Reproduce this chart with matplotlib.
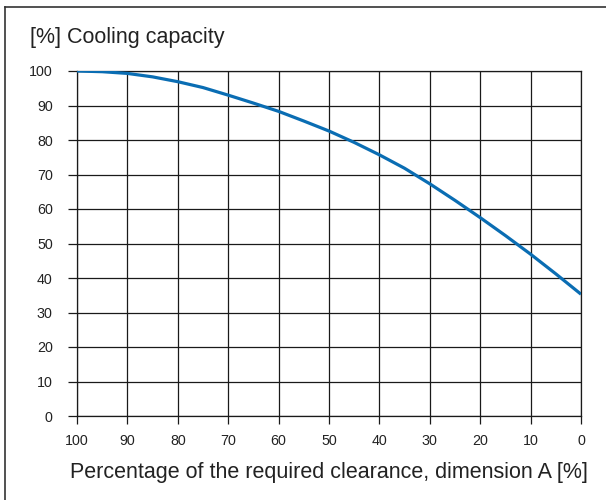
import matplotlib
matplotlib.use('Agg')
import matplotlib.pyplot as plt
from matplotlib.lines import Line2D

plt.rcParams['font.family'] = ['Liberation Sans', 'DejaVu Sans']

# values (every 5 %)
clearance = [100, 95, 90, 85, 80, 75, 70, 65, 60, 55, 50,
             45, 40, 35, 30, 25, 20, 15, 10, 5, 0]
capacity = [100, 99.8, 99.3, 98.3, 96.9, 95.2, 93.0, 90.7, 88.3, 85.5, 82.6,
            79.3, 75.7, 71.8, 67.3, 62.5, 57.5, 52.3, 46.9, 41.2, 35.3]
x_ticks = [100, 90, 80, 70, 60, 50, 40, 30, 20, 10, 0]
y_ticks = [0, 10, 20, 30, 40, 50, 60, 70, 80, 90, 100]

title = "[%] Cooling capacity"
xlabel = "Percentage of the required clearance, dimension A [%]"

fig = plt.figure(figsize=(6.06, 5.0), dpi=100)
ax = fig.add_axes([77 / 606, 84 / 500, 504 / 606, 345 / 500])

ax.plot(clearance, capacity, color='#0a6db3', lw=2.3, solid_capstyle='butt', zorder=3)

ax.set_xlim(100, 0)
ax.set_ylim(0, 100)
ax.set_xticks(x_ticks)
ax.set_yticks(y_ticks)
ax.grid(True, color='#1a1a1a', lw=0.9)
for s in ax.spines.values():
    s.set_color('#1a1a1a')
    s.set_linewidth(0.9)
ax.tick_params(axis='y', direction='out', length=6.5, width=0.9, color='#1a1a1a',
               pad=11, labelsize=10.3, labelcolor='#222222')
ax.tick_params(axis='x', direction='out', length=5.8, width=0.9, color='#1a1a1a',
               pad=7, labelsize=10.3, labelcolor='#222222')

ax.set_xlabel(xlabel, fontsize=15.5, color='#222222', labelpad=10)
fig.text(30 / 606, 1 - 37 / 500, title, fontsize=15.5, color='#222222', va='center', ha='left')

# outer frame (only top and left edges show in the reference)
fig.add_artist(Line2D([4.5 / 606, 1], [1 - 7 / 500, 1 - 7 / 500], transform=fig.transFigure,
                      color='#333333', lw=1.2))
fig.add_artist(Line2D([4.5 / 606, 4.5 / 606], [0, 1 - 7 / 500], transform=fig.transFigure,
                      color='#333333', lw=1.2))

fig.savefig("out.png", dpi=100)
